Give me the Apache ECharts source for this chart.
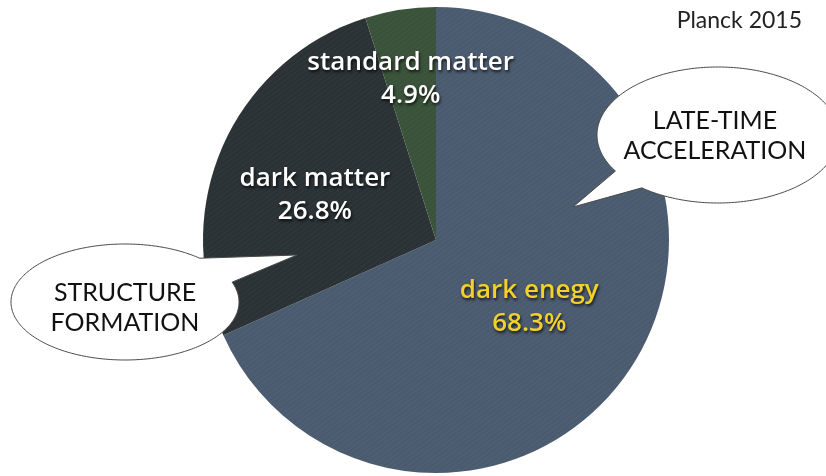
<!DOCTYPE html>
<html>
<head>
<meta charset="utf-8">
<title>Planck 2015 energy budget</title>
<script src="https://cdn.jsdelivr.net/npm/echarts@6/dist/echarts.min.js"></script>
<style>
  html, body { margin: 0; padding: 0; background: #ffffff; }
  #chart { width: 826px; height: 476px; }
</style>
</head>
<body>
<div id="chart"></div>
<script>
// Cosmic energy budget (Planck 2015)
const categories = ['dark enegy', 'dark matter', 'standard matter'];
const shares = [68.3, 26.8, 4.9];
const sliceColors = ['#4b5b6f', '#2a3235', '#3a5239'];
const labelColors = ['#f2d12c', '#ffffff', '#ffffff'];
// label nudges from the default inside position
const labelShift = [[-7, 2], [-12, 4], [-7, -43]];

const chart = echarts.init(document.getElementById('chart'), null, { renderer: 'canvas' });

// speech bubble outline: ellipse with a pointed tail, as a polygon
function bubblePoints(cx, cy, rx, ry, a1, a2, tip) {
  const pts = [];
  const p = a => [cx + rx * Math.cos(a * Math.PI / 180), cy + ry * Math.sin(a * Math.PI / 180)];
  pts.push(p(a1));
  pts.push(tip);
  const steps = 240;
  const span = 360 - (a2 - a1);
  for (let k = 0; k <= steps; k++) {
    pts.push(p(a2 + span * k / steps));
  }
  return pts;
}

const bubbleStyle = { fill: '#ffffff', stroke: '#4a4a4a', lineWidth: 1 };
const bubbleText = { fill: '#111111', fontFamily: 'Lato', fontSize: 25, lineHeight: 30, align: 'center', verticalAlign: 'middle' };

const streaks = {
  symbol: 'rect',
  color: 'rgba(255,255,255,0.03)',
  dashArrayX: [1, 0],
  dashArrayY: [1, 3],
  rotation: -Math.PI / 5
};

chart.setOption({
  backgroundColor: '#ffffff',
  animation: false,
  series: [{
    type: 'pie',
    center: [436, 240],
    radius: [0, 233],
    startAngle: 90,
    clockwise: true,
    silent: true,
    data: categories.map((name, i) => ({
      name: name,
      value: shares[i],
      itemStyle: { color: sliceColors[i], decal: streaks },
      label: { color: labelColors[i] }
    })),
    label: {
      show: true,
      position: 'inside',
      formatter: '{b}\n{c}%',
      fontFamily: 'Open Sans',
      fontWeight: 600,
      fontSize: 26,
      lineHeight: 33,
      align: 'center',
      textShadowColor: 'rgba(0,0,0,0.75)',
      textShadowBlur: 3,
      textShadowOffsetX: 1,
      textShadowOffsetY: 2
    },
    labelLine: { show: false },
    labelLayout: params => ({ dx: labelShift[params.dataIndex][0], dy: labelShift[params.dataIndex][1] })
  }],
  graphic: [
    {
      type: 'text',
      right: 24,
      top: 9,
      style: { text: 'Planck 2015', fill: '#222222', fontFamily: 'Lato', fontSize: 23 }
    },
    {
      type: 'polygon',
      z: 10,
      shape: { points: bubblePoints(125, 302, 114, 58, -49, -20, [297, 255]) },
      style: bubbleStyle
    },
    {
      type: 'text',
      z: 11,
      x: 125, y: 308,
      style: Object.assign({ text: 'STRUCTURE\nFORMATION' }, bubbleText)
    },
    {
      type: 'polygon',
      z: 10,
      shape: { points: bubblePoints(718, 135, 121, 68, 129, 148, [573, 207]) },
      style: bubbleStyle
    },
    {
      type: 'text',
      z: 11,
      x: 715, y: 136,
      style: Object.assign({ text: 'LATE-TIME\nACCELERATION' }, bubbleText)
    }
  ]
});
</script>
</body>
</html>
